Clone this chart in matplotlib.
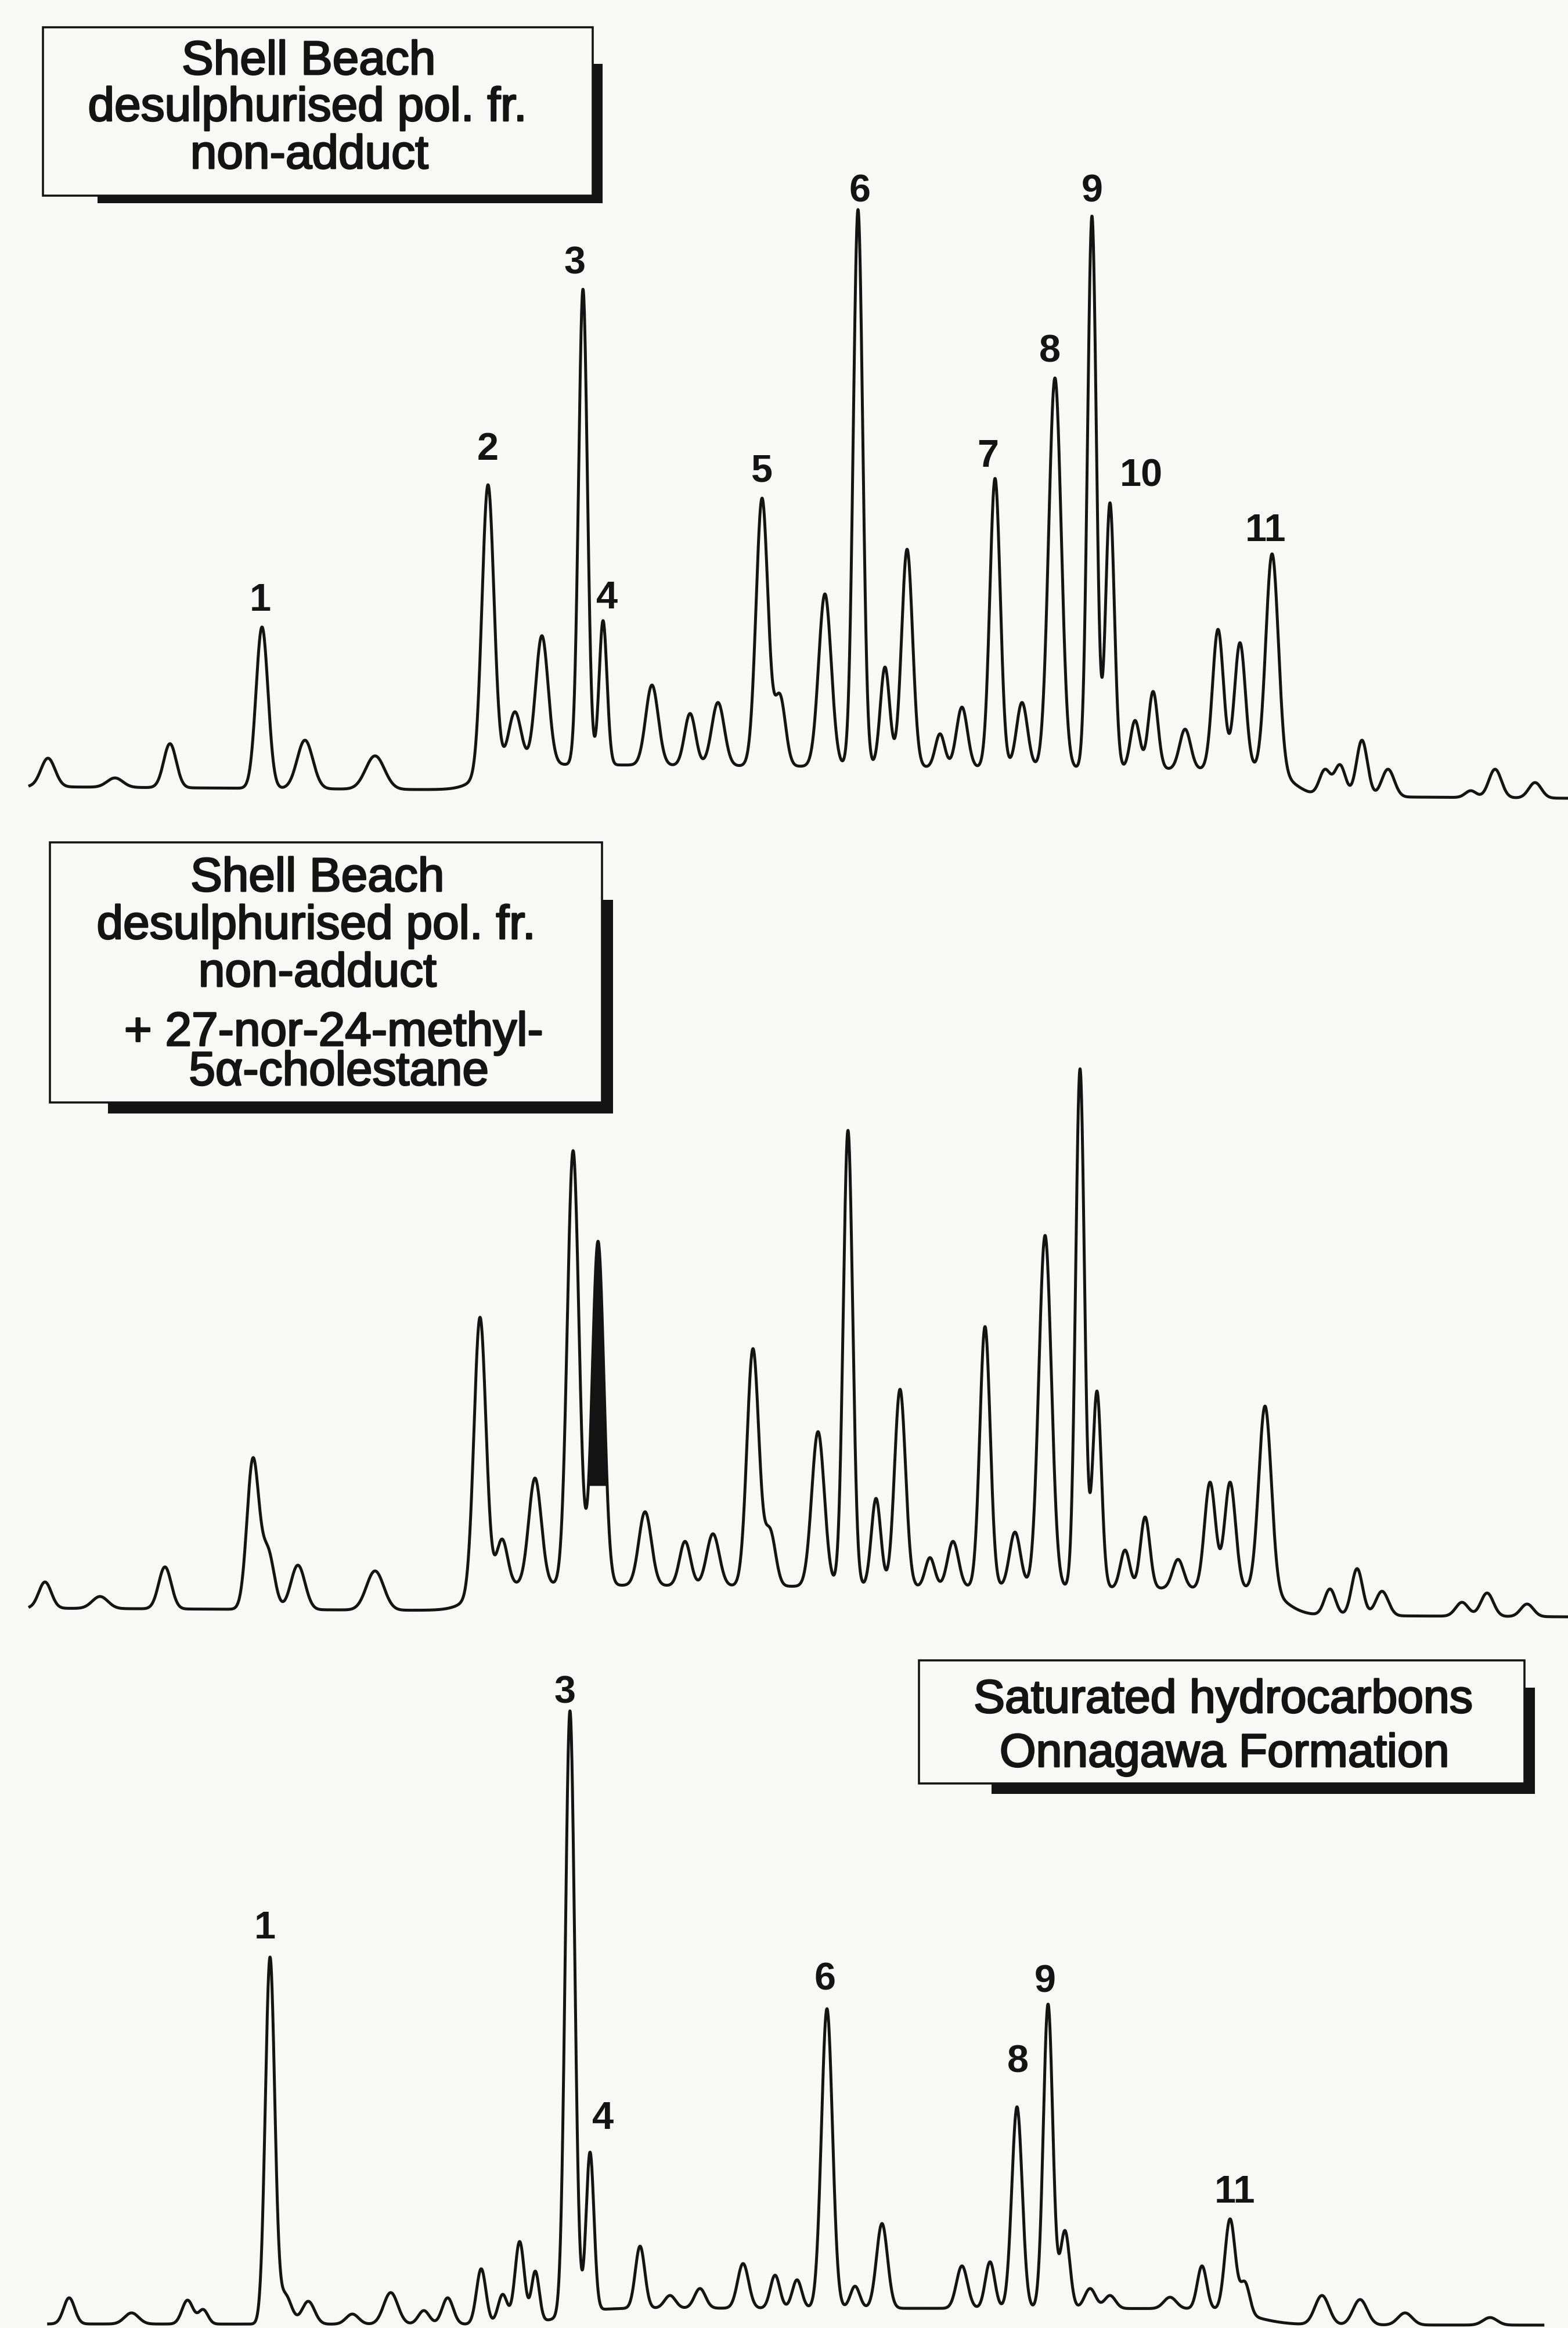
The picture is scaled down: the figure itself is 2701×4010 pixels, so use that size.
import numpy as np
import matplotlib
matplotlib.use("Agg")
import matplotlib.pyplot as plt
from matplotlib.patches import Rectangle
from matplotlib import patheffects

# ------------------------------------------------------------------ data
# Retention axis: arbitrary units 0-100 across the page; intensity: arbitrary units.
# Each trace: peak apex positions, apex heights and peak widths.

# Trace 1 : Shell Beach desulphurised pol. fr. non-adduct
t1_rt = [3.06, 7.33, 10.84, 16.71, 19.45, 23.92, 31.12, 32.84, 34.56, 37.18,
         38.46, 41.58, 44.01, 45.79, 48.60, 49.74, 52.61, 54.72, 56.44, 57.85,
         59.95, 61.35, 63.46, 65.18, 67.28, 69.64, 70.79, 72.39, 73.54, 75.58,
         77.68, 79.08, 81.13, 84.50, 85.46, 86.86, 88.52, 93.80, 95.35, 97.90]
t1_height = [5.4, 2.0, 7.9, 28.0, 8.5, 5.8, 52.5, 13.4, 26.5, 86.2,
             29.1, 18.0, 13.1, 15.0, 50.2, 16.5, 33.7, 99.9, 21.1, 41.4,
             9.6, 14.2, 53.6, 15.0, 70.9, 98.8, 49.4, 11.9, 16.9, 10.4,
             27.6, 25.3, 40.6, 3.5, 4.3, 8.5, 3.5, -0.2, 3.5, 1.2]
t1_width = [0.45, 0.5, 0.4, 0.38, 0.5, 0.6, 0.38, 0.4, 0.4, 0.28,
            0.25, 0.4, 0.35, 0.4, 0.38, 0.35, 0.4, 0.3, 0.3, 0.35,
            0.3, 0.35, 0.33, 0.35, 0.4, 0.28, 0.28, 0.3, 0.3, 0.35,
            0.35, 0.35, 0.4, 0.35, 0.35, 0.35, 0.4, 0.35, 0.4, 0.4]
t1_span = (1.9, 100.0)
t1_baseline = (0.5, -1.5)               # level at start, level at end
t1_hump = (30.5, 82.5, 4.5, 0.6)        # unresolved hump: start, end, height, edge softness
t1_labels = ["1", "2", "3", "4", "5", "6", "7", "8", "9", "10", "11"]
t1_label_rt = [16.59, 31.12, 36.67, 38.71, 48.60, 54.85, 63.01, 66.96, 69.64, 72.79, 80.71]
t1_label_y = [30.8, 56.8, 88.9, 31.2, 53.0, 101.2, 55.6, 73.6, 101.2, 52.2, 42.8]

# Trace 2 : same fraction + 27-nor-24-methyl-5a-cholestane (co-injected, filled peak)
t2_rt = [2.87, 6.38, 10.52, 16.13, 17.09, 19.00, 23.92, 30.61, 32.02, 34.12,
         36.55, 38.14, 41.14, 43.69, 45.47, 48.02, 49.11, 52.17, 54.08, 55.87,
         57.40, 59.31, 60.78, 62.82, 64.73, 66.65, 68.88, 69.96, 71.75, 73.03,
         75.13, 77.17, 78.45, 80.68, 84.82, 86.55, 88.14, 93.24, 94.84, 97.39]
t2_height = [5.0, 2.5, 7.6, 26.4, 11.1, 7.9, 6.9, 50.6, 12.4, 22.9,
             79.3, 63.7, 17.1, 12.0, 13.3, 45.2, 14.3, 30.9, 82.8, 19.4,
             38.2, 9.2, 12.0, 49.0, 13.6, 64.7, 93.4, 37.9, 10.5, 16.2,
             8.9, 22.2, 22.2, 35.3, 3.8, 7.3, 3.4, 1.5, 3.1, 1.2]
t2_width = [0.4, 0.5, 0.4, 0.38, 0.4, 0.45, 0.55, 0.38, 0.35, 0.4,
            0.37, 0.37, 0.4, 0.35, 0.4, 0.38, 0.35, 0.4, 0.3, 0.3,
            0.35, 0.3, 0.35, 0.33, 0.35, 0.4, 0.28, 0.28, 0.3, 0.3,
            0.35, 0.35, 0.35, 0.4, 0.35, 0.35, 0.4, 0.4, 0.4, 0.4]
t2_span = (1.9, 100.0)
t2_baseline = (0.5, -1.0)
t2_hump = (30.0, 82.0, 4.5, 0.6)
t2_fill_span = (37.31, 38.75)      # co-injected standard peak, shaded
t2_fill_level = 21.6

# Trace 3 : Saturated hydrocarbons, Onnagawa Formation
t3_rt = [4.41, 8.39, 11.96, 12.96, 17.22, 18.18, 19.66, 22.47, 24.92, 27.03,
         28.55, 30.69, 32.06, 33.14, 34.14, 36.35, 37.63, 40.82, 42.73, 44.64,
         47.39, 49.43, 50.83, 52.74, 54.53, 56.25, 61.35, 63.14, 64.86, 66.84,
         67.92, 69.52, 70.79, 74.62, 76.66, 78.45, 79.40, 84.31, 86.74, 89.61, 95.03]
t3_height = [4.7, 2.1, 4.3, 2.7, 63.4, 5.6, 4.1, 1.9, 5.6, 2.5,
             4.7, 9.7, 5.3, 14.4, 9.3, 105.8, 29.8, 13.6, 5.1, 6.3,
             10.6, 8.6, 7.8, 54.5, 6.7, 17.5, 10.2, 10.9, 37.6, 55.3,
             16.3, 6.3, 5.1, 4.8, 10.2, 18.3, 7.5, 5.1, 4.4, 2.1, 1.3]
t3_width = [0.35, 0.45, 0.35, 0.3, 0.3, 0.4, 0.4, 0.4, 0.45, 0.35,
            0.35, 0.3, 0.3, 0.3, 0.25, 0.3, 0.25, 0.3, 0.35, 0.35,
            0.35, 0.3, 0.3, 0.35, 0.3, 0.35, 0.35, 0.3, 0.33, 0.3,
            0.3, 0.35, 0.35, 0.4, 0.3, 0.33, 0.3, 0.45, 0.45, 0.45, 0.45]
t3_span = (3.1, 98.4)
t3_baseline = (0.2, 0.0)
t3_hump = (36.0, 80.0, 2.8, 1.0)
t3_labels = ["1", "3", "4", "6", "8", "9", "11"]
t3_label_rt = [16.90, 36.03, 38.46, 52.61, 64.92, 66.65, 78.76]
t3_label_y = [66.6, 107.1, 33.8, 57.7, 43.5, 57.3, 21.1]

# Title boxes (text lines)
box1_lines = ["Shell Beach", "desulphurised pol. fr.", "non-adduct"]
box2_lines = ["Shell Beach", "desulphurised pol. fr.", "non-adduct",
              "+ 27-nor-24-methyl-", "5\u03b1-cholestane"]
box3_lines = ["Saturated hydrocarbons", "Onnagawa Formation"]

# ------------------------------------------------------------------ helpers
def gauss(x, mu, s):
    return np.exp(-0.5 * ((np.asarray(x) - mu) / s) ** 2)


def sigmoid(z):
    return 1.0 / (1.0 + np.exp(-z))


def build_trace(rt, height, width, span, baseline, hump, n=6000):
    rt = np.asarray(rt, float)
    height = np.asarray(height, float)
    width = np.asarray(width, float)
    x = np.linspace(span[0], span[1], n)
    h0, h1, hh, hk = hump

    def background(xx):
        xx = np.asarray(xx, float)
        lin = baseline[0] + (baseline[1] - baseline[0]) * (xx - span[0]) / (span[1] - span[0])
        return lin + hh * (sigmoid((xx - h0) / hk) - sigmoid((xx - h1) / hk))

    # amplitudes so that the summed trace passes through each read apex height
    G = gauss(rt[:, None], rt[None, :], width[None, :])
    amp = np.linalg.solve(G, height - background(rt))
    amp = np.clip(amp, 0, None)
    y = background(x) + (amp[None, :] * gauss(x[:, None], rt[None, :], width[None, :])).sum(axis=1)
    return x, y


# ------------------------------------------------------------------ figure
W, H = 2701, 4010
bg = "#f8f8f6"
ink = "#141414"
fig = plt.figure(figsize=(W / 100, H / 100), dpi=100, facecolor=bg)

num_font = dict(family=["Liberation Sans", "DejaVu Sans"], fontsize=48,
                fontweight="bold", color=ink, ha="center", va="baseline")
box_font = dict(family=["Liberation Sans", "DejaVu Sans"], color=ink,
                ha="center", va="baseline",
                path_effects=[patheffects.withStroke(linewidth=2.0, foreground=ink)])

# axes bands (in page pixels): top, bottom, intensity at top, intensity at bottom
bands = [
    (0, 1420, 136.0, -6.0),
    (1420, 2850, 135.5, -7.5),
    (2850, 4010, 115.5, -0.5),
]
axes = []
for top, bot, ytop, ybot in bands:
    ax = fig.add_axes([0, 1 - bot / H, 1, (bot - top) / H])
    ax.set_xlim(0, 100)
    ax.set_ylim(ybot, ytop)
    ax.axis("off")
    ax.patch.set_alpha(0)
    axes.append(ax)

lw = 3.6
x1, y1 = build_trace(t1_rt, t1_height, t1_width, t1_span, t1_baseline, t1_hump)
axes[0].plot(x1, y1, color=ink, lw=lw, solid_joinstyle="round", clip_on=False)
for lab, xr, yl in zip(t1_labels, t1_label_rt, t1_label_y):
    axes[0].text(xr, yl, lab, **num_font)

x2, y2 = build_trace(t2_rt, t2_height, t2_width, t2_span, t2_baseline, t2_hump)
axes[1].plot(x2, y2, color=ink, lw=lw, solid_joinstyle="round", clip_on=False)
mask = (x2 >= t2_fill_span[0]) & (x2 <= t2_fill_span[1]) & (y2 >= t2_fill_level)
axes[1].fill_between(x2, t2_fill_level, y2, where=mask, color=ink, lw=0, interpolate=True)

x3, y3 = build_trace(t3_rt, t3_height, t3_width, t3_span, t3_baseline, t3_hump)
axes[2].plot(x3, y3, color=ink, lw=lw, solid_joinstyle="round", clip_on=False)
for lab, xr, yl in zip(t3_labels, t3_label_rt, t3_label_y):
    axes[2].text(xr, yl, lab, **num_font)

# overlay in page pixels for the title boxes
ov = fig.add_axes([0, 0, 1, 1], zorder=10)
ov.set_xlim(0, W)
ov.set_ylim(H, 0)
ov.axis("off")
ov.patch.set_alpha(0)


def title_box(box, shadow, lines, centers, baselines, fs):
    l, t, r, b = box
    sl, st, sr, sb = shadow
    ov.add_patch(Rectangle((sl, st), sr - sl, sb - st, facecolor=ink, edgecolor="none", zorder=1))
    ov.add_patch(Rectangle((l, t), r - l, b - t, facecolor=bg, edgecolor=ink, lw=2.6, zorder=2))
    for txt, cx, by in zip(lines, centers, baselines):
        ov.text(cx, by, txt, zorder=3, fontsize=fs, **box_font)


title_box((74, 47, 1021, 337), (168, 110, 1038, 350), box1_lines,
          [532, 530, 533], [128, 208, 290], 59)
title_box((86, 1451, 1037, 1899), (186, 1550, 1056, 1918), box2_lines,
          [547, 545, 547, 575, 584], [1535, 1617, 1699, 1801, 1869], 59)
title_box((1583, 2860, 2626, 3072), (1708, 2907, 2644, 3090), box3_lines,
          [2107, 2109], [2950, 3043], 58)

fig.savefig("out.png", dpi=100, facecolor=bg)
